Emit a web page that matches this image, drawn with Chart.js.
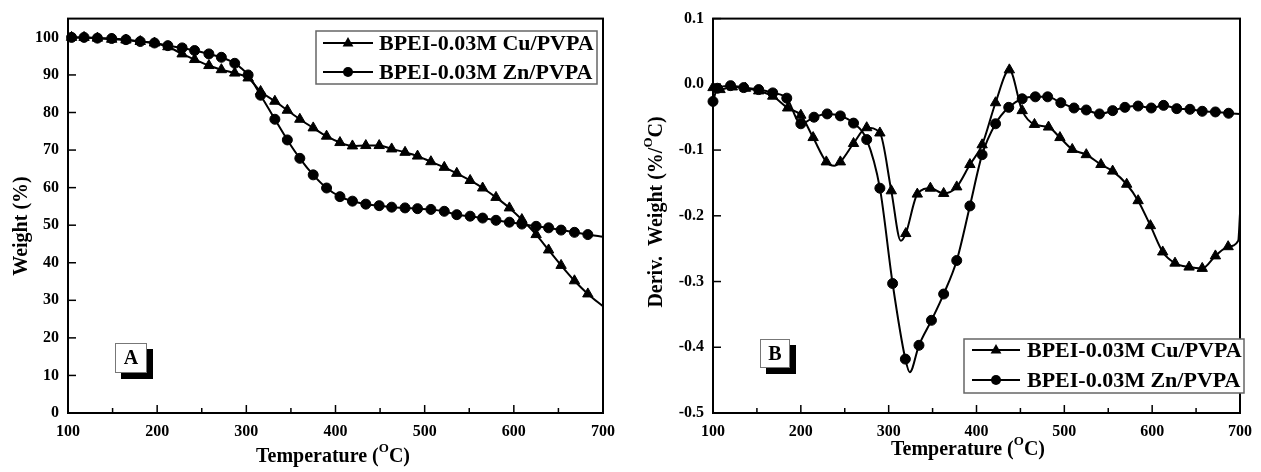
<!DOCTYPE html>
<html><head><meta charset="utf-8">
<script src="https://cdn.jsdelivr.net/npm/chart.js@4.4.1/dist/chart.umd.min.js"></script>
<style>
html,body{margin:0;padding:0;background:#fff;width:1261px;height:472px;overflow:hidden}
canvas{position:absolute;top:0}
#cA{left:0}
#cB{left:630px}
</style></head><body>
<canvas id="cA" width="630" height="472"></canvas>
<canvas id="cB" width="631" height="472"></canvas>
<script>
// ---------- DATA ----------
const seriesNames = ['BPEI-0.03M Cu/PVPA', 'BPEI-0.03M Zn/PVPA'];
const xTicks = [100, 200, 300, 400, 500, 600, 700];

// Panel A: TGA weight (%)
const tgaYTicks = [0, 10, 20, 30, 40, 50, 60, 70, 80, 90, 100];
const tgaTemp = [104, 118, 133, 149, 165, 181, 197, 212, 228, 242, 258, 272, 287, 302, 316, 332, 346, 360, 375, 390,
                 405, 419, 434, 449, 463, 478, 492, 507, 522, 536, 551, 565, 580, 595, 609, 625, 639, 653, 668, 683];
const tgaCu = [100, 100, 99.8, 99.5, 99.3, 98.9, 98.5, 97.5, 95.6, 94.1, 92.5, 91.4, 90.5, 89.2, 85.6, 83.0, 80.6, 78.2, 75.9, 73.7,
               72.0, 71.1, 71.2, 71.2, 70.3, 69.4, 68.4, 66.9, 65.4, 63.8, 61.9, 59.9, 57.4, 54.6, 51.5, 47.5, 43.4, 39.3, 35.2, 31.7];
const tgaZn = [100, 100, 99.8, 99.7, 99.4, 98.9, 98.5, 97.8, 97.2, 96.5, 95.6, 94.7, 93.1, 90.0, 84.6, 78.2, 72.7, 67.8, 63.4, 59.9,
               57.6, 56.4, 55.6, 55.2, 54.8, 54.6, 54.4, 54.2, 53.7, 52.8, 52.4, 51.9, 51.3, 50.8, 50.3, 49.7, 49.3, 48.7, 48.1, 47.5];
const tgaEndTemp = [100, 700];
const tgaCuEnd = [100, 28.4];
const tgaZnEnd = [100, 46.9];

// Panel B: DTG deriv. weight (%/oC)
const dtgYTicks = [-0.5, -0.4, -0.3, -0.2, -0.1, 0.0, 0.1];
const dtgCuTemp = [100, 108, 122, 137, 152, 168, 185, 200, 214, 229, 245, 260, 275, 290, 303, 319.5, 332.6, 347.5, 362.6, 377.5,
                   392.5, 406.4, 421.7, 437.4, 452, 466, 482, 495, 509, 525, 541.7, 555, 571, 584, 598, 612, 626, 642, 657, 672, 686.5];
const dtgCu = [-0.005, -0.008, -0.004, -0.006, -0.010, -0.018, -0.036, -0.047, -0.081, -0.118, -0.118, -0.090, -0.066, -0.074, -0.162, -0.227, -0.167, -0.158, -0.166, -0.156,
               -0.122, -0.092, -0.028, 0.022, -0.040, -0.061, -0.065, -0.081, -0.099, -0.107, -0.122, -0.132, -0.152, -0.177, -0.215, -0.255, -0.272, -0.278, -0.280, -0.261, -0.247];
const dtgCuExtraTemp = [238, 313.8, 698, 700];
const dtgCuExtra = [-0.124, -0.238, -0.238, -0.197];
const dtgZnTemp = [100, 105, 120, 135, 152, 168, 184, 200, 215, 230, 245, 260, 275, 290, 304.5, 319, 334.5, 348.7, 362.6, 377.5,
                   392.5, 406.4, 421.7, 436.7, 452, 467, 481, 496, 511, 525, 540, 555, 569, 584, 599, 613, 628, 643, 657, 672, 687];
const dtgZn = [-0.026, -0.006, -0.002, -0.005, -0.008, -0.013, -0.021, -0.060, -0.050, -0.045, -0.048, -0.059, -0.084, -0.158, -0.303, -0.418, -0.397, -0.359, -0.319, -0.268,
               -0.185, -0.107, -0.060, -0.035, -0.022, -0.019, -0.019, -0.028, -0.036, -0.039, -0.045, -0.040, -0.035, -0.033, -0.036, -0.032, -0.037, -0.038, -0.041, -0.042, -0.044];
const dtgZnExtraTemp = [324, 700];
const dtgZnExtra = [-0.438, -0.045];

// ---------- HELPERS ----------
const FAM = '"Liberation Serif","Times New Roman",serif';
const pts = (xs, ys) => xs.map((x, i) => ({x: x, y: ys[i]}));
const merged = (a, b) => a.concat(b).sort((p, q) => p.x - q.x);

function lineDs(data) {
  return {data: data, borderColor: '#000', borderWidth: 2, pointRadius: 0, fill: false,
          cubicInterpolationMode: 'monotone', order: 2};
}
function markDs(data, style, r) {
  return {data: data, showLine: false, pointStyle: style, pointRadius: r, pointHoverRadius: r,
          backgroundColor: '#000', borderColor: '#000', borderWidth: 1, clip: false, order: 1};
}

function drawMarker(ctx, style, x, y) {
  ctx.beginPath();
  if (style === 'triangle') {
    const r = 6;
    ctx.moveTo(x, y - r);
    ctx.lineTo(x + r * 0.9, y + r * 0.6);
    ctx.lineTo(x - r * 0.9, y + r * 0.6);
    ctx.closePath();
  } else {
    ctx.arc(x, y, 5, 0, Math.PI * 2);
  }
  ctx.fill();
}

function drawRich(ctx, parts, cx, cy, rot) {
  ctx.save();
  ctx.translate(cx, cy);
  if (rot) ctx.rotate(-Math.PI / 2);
  let total = 0;
  parts.forEach(p => { ctx.font = 'bold ' + (p.sup ? 13 : 20) + 'px ' + FAM; p.w = ctx.measureText(p.t).width; total += p.w; });
  let x = -total / 2;
  ctx.textBaseline = 'middle';
  ctx.textAlign = 'left';
  ctx.fillStyle = '#000';
  parts.forEach(p => {
    ctx.font = 'bold ' + (p.sup ? 13 : 20) + 'px ' + FAM;
    ctx.fillText(p.t, x, p.sup ? -8 : 0);
    x += p.w;
  });
  ctx.restore();
}

function decorPlugin(cfg) {
  return {
    id: 'decor',
    afterDraw(chart) {
      const ctx = chart.ctx, a = chart.chartArea, xs = chart.scales.x, ys = chart.scales.y;
      ctx.save();
      ctx.strokeStyle = '#000';
      ctx.lineWidth = 1.5;
      for (let v = 100; v <= 700; v += 50) {
        const px = xs.getPixelForValue(v);
        const len = (v % 100 === 0) ? 8 : 5;
        ctx.beginPath(); ctx.moveTo(px, a.bottom); ctx.lineTo(px, a.bottom - len); ctx.stroke();
      }
      cfg.yTicks.forEach(v => {
        const py = ys.getPixelForValue(v);
        ctx.beginPath(); ctx.moveTo(a.left, py); ctx.lineTo(a.left + 8, py); ctx.stroke();
      });
      ctx.lineWidth = 2;
      ctx.strokeRect(a.left, a.top, a.right - a.left, a.bottom - a.top);
      drawRich(ctx, cfg.xTitle, cfg.xTitlePos[0], cfg.xTitlePos[1], false);
      drawRich(ctx, cfg.yTitle, cfg.yTitlePos[0], cfg.yTitlePos[1], true);
      const L = cfg.legend;
      ctx.fillStyle = '#fff';
      ctx.fillRect(L.x0, L.y0, L.x1 - L.x0, L.y1 - L.y0);
      ctx.strokeStyle = '#666';
      ctx.lineWidth = 1.5;
      ctx.strokeRect(L.x0, L.y0, L.x1 - L.x0, L.y1 - L.y0);
      ['triangle', 'circle'].forEach((st, i) => {
        const yy = L.rows[i];
        ctx.strokeStyle = '#000'; ctx.lineWidth = 2;
        ctx.beginPath(); ctx.moveTo(L.lx0, yy); ctx.lineTo(L.lx1, yy); ctx.stroke();
        ctx.fillStyle = '#000';
        drawMarker(ctx, st, (L.lx0 + L.lx1) / 2, yy);
        ctx.font = 'bold 22px ' + FAM;
        ctx.textAlign = 'left'; ctx.textBaseline = 'middle';
        ctx.fillText(seriesNames[i], L.tx, yy + 1);
      });
      const B = cfg.letter;
      ctx.fillStyle = '#000';
      ctx.fillRect(B.x + 6, B.y + 6, B.w, B.h);
      ctx.fillStyle = '#fff';
      ctx.fillRect(B.x, B.y, B.w, B.h);
      ctx.strokeStyle = '#777'; ctx.lineWidth = 1;
      ctx.strokeRect(B.x + 0.5, B.y + 0.5, B.w - 1, B.h - 1);
      ctx.fillStyle = '#000';
      ctx.font = 'bold 20px ' + FAM;
      ctx.textAlign = 'center'; ctx.textBaseline = 'middle';
      ctx.fillText(B.t, B.x + B.w / 2, B.y + B.h / 2 + 1);
      ctx.restore();
    }
  };
}

function makeChart(id, datasets, c) {
  const tickFont = {family: FAM, size: 16, weight: 'bold'};
  return new Chart(document.getElementById(id), {
    type: 'line',
    data: {datasets: datasets},
    options: {
      responsive: false, animation: false, devicePixelRatio: 1,
      events: [],
      layout: {padding: {left: 0, right: c.padRight, top: c.top, bottom: 0}},
      plugins: {legend: {display: false}, tooltip: {enabled: false}},
      scales: {
        x: {
          type: 'linear', min: 100, max: 700,
          grid: {display: false, drawTicks: false}, border: {display: false},
          ticks: {font: tickFont, color: '#000', padding: 9, maxRotation: 0},
          afterBuildTicks: s => { s.ticks = xTicks.map(v => ({value: v})); },
          afterFit: s => { s.height = 472 - c.bottom; }
        },
        y: {
          type: 'linear', min: c.yMin, max: c.yMax,
          grid: {display: false, drawTicks: false}, border: {display: false},
          ticks: {font: tickFont, color: '#000', padding: 9, callback: c.fmt},
          afterBuildTicks: s => { s.ticks = c.yTicks.map(v => ({value: v})); },
          afterFit: s => { s.width = c.left; }
        }
      }
    },
    plugins: [decorPlugin(c)]
  });
}

// ---------- PANEL A ----------
makeChart('cA', [
  lineDs(merged(pts(tgaTemp, tgaCu), pts(tgaEndTemp, tgaCuEnd))),
  lineDs(merged(pts(tgaTemp, tgaZn), pts(tgaEndTemp, tgaZnEnd))),
  markDs(pts(tgaTemp, tgaCu), 'triangle', 6),
  markDs(pts(tgaTemp, tgaZn), 'circle', 5)
], {
  left: 68, padRight: 27, top: 16, bottom: 413, yMin: 0, yMax: 105, yTicks: tgaYTicks,
  fmt: v => String(v),
  xTitle: [{t: 'Temperature ('}, {t: 'O', sup: true}, {t: 'C)'}], xTitlePos: [333, 457],
  yTitle: [{t: 'Weight (%)'}], yTitlePos: [22, 226],
  legend: {x0: 316, y0: 31, x1: 597, y1: 84, rows: [43, 72], lx0: 323, lx1: 373, tx: 379},
  letter: {x: 115, y: 343, w: 32, h: 30, t: 'A'}
});

// ---------- PANEL B ----------
makeChart('cB', [
  lineDs(merged(pts(dtgCuTemp, dtgCu), pts(dtgCuExtraTemp, dtgCuExtra))),
  lineDs(merged(pts(dtgZnTemp, dtgZn), pts(dtgZnExtraTemp, dtgZnExtra))),
  markDs(pts(dtgCuTemp, dtgCu), 'triangle', 6),
  markDs(pts(dtgZnTemp, dtgZn), 'circle', 5)
], {
  left: 83, padRight: 14, top: 17, bottom: 413, yMin: -0.5, yMax: 0.1, yTicks: dtgYTicks,
  fmt: v => Number(v).toFixed(1),
  xTitle: [{t: 'Temperature ('}, {t: 'O', sup: true}, {t: 'C)'}], xTitlePos: [338, 450],
  yTitle: [{t: 'Deriv.  Weight (%/'}, {t: 'O', sup: true}, {t: 'C)'}], yTitlePos: [27, 212],
  legend: {x0: 334, y0: 339, x1: 614, y1: 393, rows: [350, 380], lx0: 342, lx1: 390, tx: 397},
  letter: {x: 130, y: 339, w: 30, h: 29, t: 'B'}
});
</script>
</body></html>
